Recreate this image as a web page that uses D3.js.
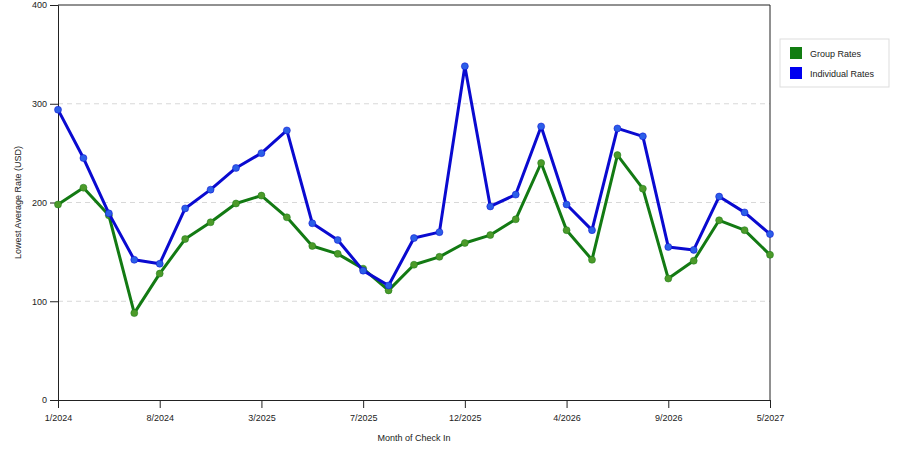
<!DOCTYPE html>
<html>
<head>
<meta charset="utf-8">
<script src="https://cdn.jsdelivr.net/npm/d3@7"></script>
<style>
  body { margin: 0; background: #fff; }
  text { font-family: "Liberation Sans", Arial, sans-serif; }
</style>
</head>
<body>
<svg id="chart" width="900" height="450"></svg>
<script>
// months of check in (only every 4th is labelled on the axis)
const months = ["1/2024", "2/2024", "4/2024", "6/2024", "8/2024", "9/2024", "10/2024", "12/2024",
  "3/2025", "4/2025", "5/2025", "6/2025", "7/2025", "8/2025", "9/2025", "11/2025",
  "12/2025", "1/2026", "2/2026", "3/2026", "4/2026", "5/2026", "6/2026", "8/2026",
  "9/2026", "11/2026", "1/2027", "3/2027", "5/2027"];

const groupRates = [198, 215, 187, 88, 128, 163, 180, 199, 207, 185, 156, 148, 133,
  111, 137, 145, 159, 167, 183, 240, 172, 142, 248, 214, 123, 141, 182, 172, 147];

const individualRates = [294, 245, 189, 142, 138, 194, 213, 235, 250, 273, 179, 162, 131,
  116, 164, 170, 338, 196, 208, 277, 198, 172, 275, 267, 155, 152, 206, 190, 168];

const yTicks = [0, 100, 200, 300, 400];

const series = [
  {name: "Group Rates", values: groupRates, color: "#137a13", dot: "#4c9a2a", swatch: "#127d12"},
  {name: "Individual Rates", values: individualRates, color: "#0a0ad0", dot: "#2b5ee8", swatch: "#0000f0"}
];

const margin = {top: 5, left: 58, right: 130, bottom: 50};
const width = 900 - margin.left - margin.right;   // 712
const height = 450 - margin.top - margin.bottom;  // 395

const svg = d3.select("#chart");
const g = svg.append("g").attr("transform", `translate(${margin.left},${margin.top})`);

const x = d3.scalePoint().domain(d3.range(months.length)).range([0, width]);
const y = d3.scaleLinear().domain([0, 400]).range([height, 0]);

// dashed gridlines
g.selectAll(".grid")
  .data(yTicks.filter(t => t > 0 && t < 400))
  .enter().append("line")
  .attr("x1", 0).attr("x2", width)
  .attr("y1", d => y(d)).attr("y2", d => y(d))
  .attr("stroke", "#d8d8d8")
  .attr("stroke-dasharray", "5,4");

// frame top and right
g.append("line").attr("x1", 0).attr("x2", width).attr("y1", 0).attr("y2", 0).attr("stroke", "#222");
g.append("line").attr("x1", width).attr("x2", width).attr("y1", 0).attr("y2", height).attr("stroke", "#222");

// y axis
const yAxis = g.append("g")
  .call(d3.axisLeft(y).tickValues(yTicks).tickSize(8).tickPadding(3));
yAxis.select(".domain").attr("stroke", "#222");
yAxis.selectAll(".tick line").attr("stroke", "#222");
yAxis.selectAll("text").style("font-size", "9px").attr("fill", "#222");

// x axis
const xAxis = g.append("g")
  .attr("transform", `translate(0,${height})`)
  .call(d3.axisBottom(x)
    .tickValues(d3.range(0, months.length, 4))
    .tickFormat(i => months[i])
    .tickSize(8).tickPadding(7));
xAxis.select(".domain").attr("stroke", "#222");
xAxis.selectAll(".tick line").attr("stroke", "#222");
xAxis.selectAll("text").style("font-size", "9px").attr("fill", "#222");

// lines and markers
const line = d3.line().x((d, i) => x(i)).y(d => y(d));

series.forEach(s => {
  g.append("path")
    .datum(s.values)
    .attr("fill", "none")
    .attr("stroke", s.color)
    .attr("stroke-width", 3)
    .attr("stroke-linejoin", "round")
    .attr("d", line);

  g.selectAll(null)
    .data(s.values)
    .enter().append("circle")
    .attr("cx", (d, i) => x(i))
    .attr("cy", d => y(d))
    .attr("r", 3.5)
    .attr("fill", s.dot)
    .attr("stroke", s.color)
    .attr("stroke-opacity", 0.5)
    .attr("stroke-width", 1);
});

// axis titles
svg.append("text")
  .attr("transform", "rotate(-90)")
  .attr("x", -(margin.top + height / 2))
  .attr("y", 21)
  .attr("text-anchor", "middle")
  .style("font-size", "9px")
  .attr("fill", "#222")
  .text("Lowest Average Rate (USD)");

svg.append("text")
  .attr("x", margin.left + width / 2)
  .attr("y", 441)
  .attr("text-anchor", "middle")
  .style("font-size", "9px")
  .attr("fill", "#222")
  .text("Month of Check In");

// legend
const legend = svg.append("g").attr("transform", "translate(780,39)");
legend.append("rect")
  .attr("width", 109).attr("height", 48)
  .attr("fill", "#fff").attr("stroke", "#ddd");

series.forEach((s, i) => {
  legend.append("rect")
    .attr("x", 10).attr("y", 8 + i * 20)
    .attr("width", 12).attr("height", 12)
    .attr("fill", s.swatch);
  legend.append("text")
    .attr("x", 30).attr("y", 18 + i * 20)
    .style("font-size", "9px")
    .attr("fill", "#222")
    .text(s.name);
});
</script>
</body>
</html>
